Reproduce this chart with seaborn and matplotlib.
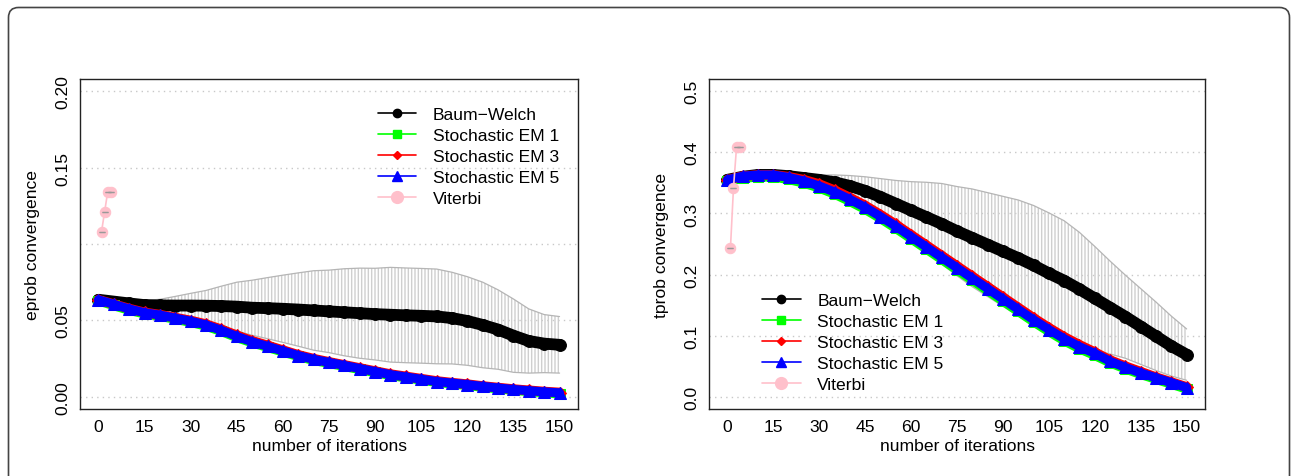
import matplotlib
matplotlib.use("Agg")
import matplotlib.pyplot as plt
from matplotlib.lines import Line2D
from matplotlib.patches import FancyBboxPatch
import pandas as pd
import seaborn as sns

iterations = list(range(0, 151, 5))
x_ticks = list(range(0, 151, 15))
labels = ["Baum\u2212Welch", "Stochastic EM 1", "Stochastic EM 3", "Stochastic EM 5", "Viterbi"]

# --- eprob panel ---
e_bw = [0.0635, 0.0623, 0.0611, 0.0600, 0.0598, 0.0597, 0.0597, 0.0596, 0.0594, 0.0590,
        0.0583, 0.0580, 0.0576, 0.0571, 0.0565, 0.0559, 0.0553, 0.0547, 0.0541, 0.0537,
        0.0533, 0.0530, 0.0526, 0.0515, 0.0496, 0.0470, 0.0440, 0.0400, 0.0365, 0.0348, 0.0340]
e_bw_sd = [0.000, 0.001, 0.002, 0.003, 0.004, 0.006, 0.008, 0.010, 0.013, 0.016,
           0.018, 0.020, 0.022, 0.024, 0.026, 0.027, 0.0285, 0.0295, 0.030, 0.031,
           0.031, 0.031, 0.031, 0.030, 0.029, 0.028, 0.026, 0.024, 0.021, 0.019, 0.0185]
e_sem1 = [0.0630, 0.0598, 0.0568, 0.0544, 0.0529, 0.0509, 0.0489, 0.0464, 0.0429, 0.0389,
          0.0355, 0.0325, 0.0295, 0.0265, 0.0240, 0.0220, 0.0200, 0.0180, 0.0160, 0.0141,
          0.0126, 0.0111, 0.0096, 0.0086, 0.0076, 0.0064, 0.0054, 0.0044, 0.0036, 0.0028, 0.0021]
e_sem3 = [0.0635, 0.0606, 0.0577, 0.0552, 0.0537, 0.0518, 0.0499, 0.0475, 0.0441, 0.0402,
          0.0366, 0.0336, 0.0305, 0.0274, 0.0249, 0.0228, 0.0208, 0.0188, 0.0168, 0.0148,
          0.0133, 0.0118, 0.0103, 0.0092, 0.0082, 0.0070, 0.0060, 0.0050, 0.0042, 0.0034, 0.0028]
e_sem5 = [0.0635, 0.0605, 0.0575, 0.0550, 0.0535, 0.0515, 0.0495, 0.0470, 0.0435, 0.0395,
          0.0360, 0.0330, 0.0300, 0.0270, 0.0245, 0.0225, 0.0205, 0.0185, 0.0165, 0.0145,
          0.0130, 0.0115, 0.0100, 0.0090, 0.0080, 0.0068, 0.0058, 0.0048, 0.0040, 0.0032, 0.0026]
e_vit_iter = [1, 2, 3, 4]
e_vit = [0.108, 0.121, 0.134, 0.134]

# --- tprob panel ---
t_bw = [0.355, 0.360, 0.363, 0.363, 0.361, 0.358, 0.355, 0.351, 0.345, 0.337,
        0.327, 0.316, 0.305, 0.294, 0.283, 0.271, 0.260, 0.249, 0.238, 0.227,
        0.215, 0.202, 0.190, 0.176, 0.161, 0.146, 0.131, 0.115, 0.099, 0.083, 0.069]
t_bw_sd = [0.000, 0.001, 0.002, 0.002, 0.003, 0.005, 0.008, 0.012, 0.017, 0.023,
           0.030, 0.038, 0.047, 0.057, 0.066, 0.073, 0.080, 0.085, 0.090, 0.095,
           0.098, 0.099, 0.098, 0.093, 0.085, 0.076, 0.068, 0.062, 0.056, 0.049, 0.042]
t_sem1 = [0.353, 0.358, 0.360, 0.360, 0.356, 0.350, 0.342, 0.332, 0.320, 0.307,
          0.292, 0.276, 0.259, 0.242, 0.225, 0.208, 0.191, 0.174, 0.157, 0.140,
          0.123, 0.107, 0.092, 0.079, 0.068, 0.056, 0.046, 0.037, 0.029, 0.021, 0.013]
t_sem3 = [0.355, 0.361, 0.363, 0.363, 0.360, 0.355, 0.348, 0.338, 0.326, 0.313,
          0.298, 0.282, 0.265, 0.248, 0.231, 0.214, 0.197, 0.180, 0.163, 0.146,
          0.129, 0.113, 0.098, 0.085, 0.073, 0.060, 0.050, 0.041, 0.032, 0.024, 0.016]
t_sem5 = [0.355, 0.361, 0.363, 0.363, 0.359, 0.353, 0.345, 0.335, 0.323, 0.310,
          0.295, 0.279, 0.262, 0.245, 0.228, 0.211, 0.194, 0.177, 0.160, 0.143,
          0.126, 0.110, 0.095, 0.082, 0.071, 0.058, 0.048, 0.039, 0.031, 0.023, 0.015]
t_vit_iter = [1, 2, 3, 4]
t_vit = [0.243, 0.342, 0.409, 0.409]

sns.set_style("white")
plt.rcParams["font.family"] = ["Liberation Sans", "DejaVu Sans"]
plt.rcParams.update({"text.color": "black", "axes.labelcolor": "black",
                     "xtick.color": "black", "ytick.color": "black"})
FS = 12.6

fig = plt.figure(figsize=(12.92, 4.77), dpi=100)
ax_e = fig.add_axes([80 / 1292, 67 / 477, 498 / 1292, 330 / 477])
ax_t = fig.add_axes([709 / 1292, 67 / 477, 496 / 1292, 330 / 477])


def draw_panel(ax, bw, bw_sd, sem1, sem3, sem5, vit_x, vit):
    df = pd.DataFrame({"iter": iterations, "bw": bw, "sd": bw_sd,
                       "sem1": sem1, "sem3": sem3, "sem5": sem5})
    lower = df["bw"] - df["sd"]
    upper = df["bw"] + df["sd"]
    # dense grey error bars of Baum-Welch
    ax.fill_between(df["iter"], lower, upper, facecolor="none", edgecolor="#cfcfcf",
                    hatch="|||||", linewidth=0, zorder=1)
    ax.plot(df["iter"], upper, color="#b5b5b5", lw=0.9, zorder=1.5)
    ax.plot(df["iter"], lower, color="#b5b5b5", lw=0.9, zorder=1.5)

    sns.lineplot(data=df, x="iter", y="bw", ax=ax, color="black", lw=8.5,
                 marker="o", markersize=8.5, markeredgecolor="black",
                 solid_capstyle="round", zorder=3)
    sns.lineplot(data=df, x="iter", y="sem1", ax=ax, color="#00ff00", lw=7,
                 marker="s", markersize=7, markeredgecolor="#00ff00", zorder=4)
    sns.lineplot(data=df, x="iter", y="sem3", ax=ax, color="red", lw=7,
                 marker="D", markersize=6, markeredgecolor="red", zorder=5)
    sns.lineplot(data=df, x="iter", y="sem5", ax=ax, color="blue", lw=6.5,
                 marker="^", markersize=9, markeredgecolor="blue", zorder=6)
    sns.lineplot(x=vit_x, y=vit, ax=ax, color="pink", lw=1.2, marker="o",
                 markersize=7.5, markeredgecolor="pink", zorder=7)
    ax.errorbar(vit_x, vit, yerr=[0] * len(vit), fmt="none", ecolor="#999999",
                elinewidth=0.8, capsize=2.5, capthick=0.9, zorder=8)

    ax.set_xlim(-6, 156)
    ax.set_xticks(x_ticks)
    ax.set_xlabel("number of iterations", fontsize=FS, labelpad=3)
    ax.tick_params(axis="both", direction="out", length=5, width=0.8,
                   labelsize=FS, pad=2, color="#222222")
    for sp in ax.spines.values():
        sp.set_color("#222222")
        sp.set_linewidth(1.0)


def add_legend(ax, anchor):
    specs = [("black", "o", 6), ("#00ff00", "s", 6), ("red", "D", 4.5),
             ("blue", "^", 7), ("pink", "o", 8.5)]
    handles = [Line2D([0], [0], color=c, lw=1.2, marker=m, markersize=s,
                      markeredgecolor=c) for c, m, s in specs]
    ax.legend(handles, labels, loc="upper left", bbox_to_anchor=anchor,
              frameon=False, fontsize=FS, handlelength=2.2, handletextpad=0.95,
              labelspacing=0.33, borderpad=0, borderaxespad=0)


draw_panel(ax_e, e_bw, e_bw_sd, e_sem1, e_sem3, e_sem5, e_vit_iter, e_vit)
draw_panel(ax_t, t_bw, t_bw_sd, t_sem1, t_sem3, t_sem5, t_vit_iter, t_vit)

# eprob axis: grid every 0.05, labelled ticks as in the original
ax_e.set_ylim(-0.008, 0.208)
for g in [0.0, 0.05, 0.10, 0.15, 0.20]:
    ax_e.axhline(g, color="#c8c8c8", ls=(0, (1, 3)), lw=1, zorder=0)
ax_e.set_yticks([0.0, 0.01, 0.05, 0.15, 0.20])
ax_e.set_yticklabels(["0.00", "", "0.05", "0.15", "0.20"], rotation=90, va="center")
ax_e.set_ylabel("eprob convergence", fontsize=FS, labelpad=11)

ax_t.set_ylim(-0.02, 0.52)
t_grid = [0.0, 0.1, 0.2, 0.3, 0.4, 0.5]
for g in t_grid:
    ax_t.axhline(g, color="#c8c8c8", ls=(0, (1, 3)), lw=1, zorder=0)
ax_t.set_yticks(t_grid)
ax_t.set_yticklabels([f"{v:.1f}" for v in t_grid], rotation=90, va="center")
ax_t.set_ylabel("tprob convergence", fontsize=FS, labelpad=11)

add_legend(ax_e, (0.598, 0.915))
add_legend(ax_t, (0.107, 0.353))

# rounded outer frame of the figure panel
fig.add_artist(FancyBboxPatch((8.5, -30), 1281, 498.5, boxstyle="round,pad=0,rounding_size=10",
                              transform=None, fill=False, edgecolor="#444444", lw=1.2))

fig.savefig("out.png", dpi=100)
